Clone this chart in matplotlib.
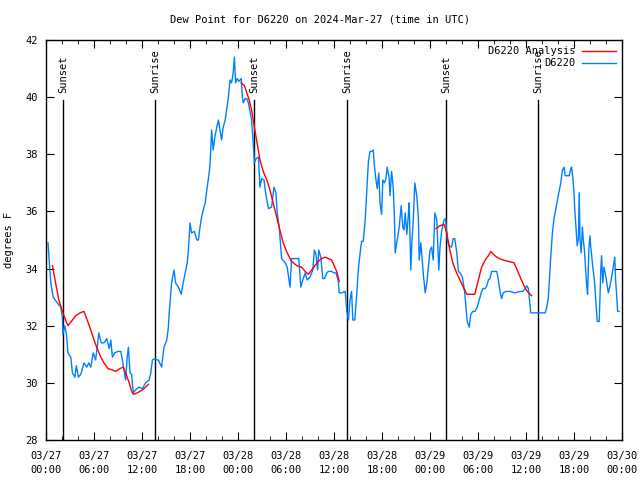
import numpy as np
import matplotlib.pyplot as plt

# hours since 03/27 00:00 UTC
obs_hours = [0.25, 0.35, 0.6, 0.9, 1.4, 1.85, 2.05, 2.1, 2.35, 2.55, 2.75, 3.1, 3.3, 3.6, 3.8,
             4.05, 4.35, 4.75, 5.1, 5.35, 5.6, 5.9, 6.2, 6.4, 6.6, 6.9, 7.25, 7.6, 7.9, 8.1,
             8.3, 8.6, 9.0, 9.35, 9.55, 9.95, 10.15, 10.3, 10.5, 10.7, 10.9, 11.2, 11.6, 12.05,
             12.45, 12.9, 13.1, 13.3, 13.6, 13.9, 14.05, 14.45, 14.75, 15.1, 15.3, 15.4, 15.5,
             15.7, 16.0, 16.2, 16.55, 16.9, 17.15, 17.4, 17.65, 17.8, 18.0, 18.2, 18.55, 18.85,
             19.05, 19.25, 19.45, 19.65, 19.9, 20.1, 20.3, 20.5, 20.7, 20.9, 21.1, 21.35, 21.55,
             21.75, 21.95, 22.15, 22.4, 22.6, 22.8, 23.0, 23.2, 23.4, 23.55, 23.7, 23.9, 24.1,
             24.4, 24.55, 24.65, 24.9, 25.1, 25.3, 25.5, 25.7, 25.9, 26.05, 26.25, 26.55, 26.75,
             26.95, 27.25, 27.45, 27.8, 28.2, 28.5, 28.75, 28.9, 29.15, 29.45, 29.9, 30.15, 30.5,
             30.7, 31.1, 31.6, 31.85, 32.1, 32.4, 32.65, 33.0, 33.35, 33.55, 33.75, 33.95, 34.1,
             34.35, 34.6, 34.8, 35.1, 35.3, 35.7, 36.0, 36.25, 36.4, 36.55, 36.65, 36.95, 37.4,
             37.6, 37.8, 38.0, 38.2, 38.35, 38.6, 38.85, 39.05, 39.35, 39.45, 39.65, 39.9, 40.1,
             40.3, 40.5, 40.7, 40.9, 41.05, 41.2, 41.4, 41.6, 41.75, 41.95, 42.1, 42.3, 42.5,
             42.65, 42.9, 43.0, 43.2, 43.4, 43.55, 43.65, 43.9, 44.15, 44.4, 44.6, 44.75, 44.9,
             45.1, 45.3, 45.4, 45.6, 45.75, 45.9, 46.1, 46.35, 46.55, 46.65, 46.85, 47.0, 47.15,
             47.4, 47.6, 47.8, 48.0, 48.2, 48.4, 48.6, 48.85, 48.95, 49.1, 49.25, 49.45, 49.75,
             49.95, 50.15, 50.4, 50.7, 50.9, 51.1, 51.35, 51.55, 51.75, 52.05, 52.3, 52.5, 52.65,
             52.9, 53.1, 53.35, 53.6, 53.9, 54.15, 54.4, 54.6, 54.9, 55.1, 55.3, 55.5, 55.7, 56.0,
             56.35, 56.55, 56.75, 56.95, 57.15, 57.5, 58.0, 58.6, 59.25, 59.6, 59.9, 60.1, 60.3,
             60.4, 60.6, 60.9, 61.75, 62.4, 62.6, 62.8, 62.9, 63.1, 63.3, 63.5, 63.7, 63.9, 64.1,
             64.35, 64.55, 64.75, 64.9, 65.15, 65.4, 65.6, 65.7, 65.85, 66.0, 66.1, 66.25, 66.4,
             66.55, 66.65, 66.75, 66.9, 67.05, 67.15, 67.3, 67.45, 67.6, 67.7, 67.85, 68.0, 68.1,
             68.35, 68.55, 68.75, 68.9, 69.15, 69.35, 69.45, 69.6, 69.75, 69.9, 70.1, 70.3, 70.5,
             70.7, 70.9, 71.1, 71.2, 71.35, 71.45, 71.65]
obs_dewpt = [34.9, 34.5, 33.5, 33.0, 32.8, 32.65, 32.3, 31.7, 32.0, 31.7, 31.05, 30.9, 30.35, 30.2,
             30.6, 30.2, 30.3, 30.7, 30.55, 30.7, 30.55, 31.05, 30.8, 31.25, 31.75, 31.4, 31.4,
             31.55, 31.2, 31.5, 30.9, 31.05, 31.1, 31.1, 30.8, 30.1, 30.9, 31.25, 30.35, 30.3,
             29.65, 29.75, 29.85, 29.8, 30.0, 30.1, 30.35, 30.8, 30.85, 30.8, 30.8, 30.55, 31.25,
             31.5, 31.95, 32.45, 32.8, 33.5, 33.95, 33.5, 33.35, 33.1, 33.5, 33.85, 34.2, 34.65,
             35.6, 35.25, 35.3, 35.0, 35.0, 35.45, 35.8, 36.05, 36.3, 36.75, 37.15, 37.6, 38.85,
             38.15, 38.6, 38.95, 39.2, 38.85, 38.5, 38.95, 39.2, 39.6, 40.0, 40.6, 40.5, 40.85,
             41.4, 40.5, 40.65, 40.55, 40.65, 40.0, 39.8, 39.95, 39.95, 39.8, 39.5, 39.2, 38.4,
             37.7, 37.85, 37.9, 36.85, 37.15, 37.1, 36.65, 36.1, 36.15, 36.85, 36.65, 35.95,
             35.45, 34.35, 34.2, 34.05, 33.35, 34.35, 34.35, 34.35, 33.35, 33.6, 33.85, 33.6,
             33.7, 33.95, 34.65, 34.5, 33.95, 34.65, 34.4, 33.65, 33.65, 33.85, 33.9, 33.9,
             33.85, 33.85, 33.7, 33.55, 33.15, 33.15, 33.2, 32.5, 32.2, 32.9, 33.2, 32.2, 32.2,
             33.15, 34.0, 34.75, 34.95, 34.95, 35.7, 36.7, 37.75, 38.1, 38.1, 38.15, 37.6, 37.2,
             36.8, 37.35, 36.3, 35.9, 37.1, 37.0, 37.15, 37.55, 37.15, 36.55, 37.4, 36.85, 35.8,
             34.55, 35.0, 35.45, 36.2, 35.45, 35.35, 35.95, 35.2, 35.9, 36.3, 33.95, 35.0, 35.65,
             37.0, 36.55, 35.75, 34.3, 34.9, 34.4, 33.85, 33.15, 33.5, 34.05, 34.65, 34.75, 34.3,
             35.95, 35.7, 35.0, 33.95, 34.75, 35.3, 35.7, 35.75, 35.0, 34.8, 34.75, 35.05, 35.05,
             34.55, 33.9, 33.85, 33.7, 33.25, 32.65, 32.15, 31.95, 32.4, 32.5, 32.5, 32.65, 32.9,
             33.15, 33.3, 33.3, 33.4, 33.6, 33.65, 33.9, 33.9, 33.9, 33.6, 33.2, 32.95, 33.15,
             33.2, 33.2, 33.15, 33.2, 33.2, 33.3, 33.4, 33.3, 33.0, 32.45, 32.45, 32.45, 32.45,
             32.65, 33.0, 33.5, 34.45, 35.25, 35.75, 36.05, 36.35, 36.65, 37.0, 37.45, 37.55,
             37.25, 37.25, 37.25, 37.5, 37.55, 37.2, 36.65, 36.05, 35.4, 34.8, 35.05, 36.65,
             35.05, 34.55, 35.45, 35.05, 34.65, 34.0, 33.35, 33.1, 34.65, 35.15, 34.75, 34.05,
             33.6, 32.8, 32.15, 32.15, 33.95, 34.45, 33.5, 34.05, 33.85, 33.5, 33.15, 33.4, 33.7,
             34.05, 34.4, 33.6, 33.0, 32.5, 32.5]

# analysis, three nights
ana1_hours = [0.8, 1.2, 1.6, 2.05, 2.45, 2.75, 3.3, 3.7, 4.25, 4.75, 5.15, 5.6, 6.0, 6.4, 6.85,
              7.25, 7.75, 8.3, 8.7, 9.25, 9.65, 9.95, 10.4, 10.65, 10.9, 11.4, 12.05, 12.45, 12.8]
ana1_dewpt = [34.1, 33.5, 32.9, 32.5, 32.2, 32.0, 32.2, 32.35, 32.45, 32.5, 32.2, 31.85, 31.5,
              31.2, 30.9, 30.7, 30.5, 30.45, 30.4, 30.5, 30.55, 30.35, 30.0, 29.75, 29.6, 29.65,
              29.75, 29.85, 29.95]
ana2_hours = [24.4, 24.8, 25.1, 25.4, 25.7, 26.05, 26.35, 26.75, 27.15, 27.6, 28.0, 28.35, 28.75,
              29.15, 29.65, 30.15, 30.7, 31.35, 31.95, 32.4, 32.8, 33.2, 33.6, 34.05, 34.45,
              34.9, 35.3, 35.7, 36.1, 36.4, 36.65]
ana2_dewpt = [40.5, 40.4, 40.15, 39.9, 39.55, 38.95, 38.45, 37.8, 37.4, 37.1, 36.75, 36.35, 35.9,
              35.45, 34.9, 34.55, 34.25, 34.1, 34.05, 33.9, 33.8, 33.95, 34.1, 34.25, 34.35,
              34.4, 34.35, 34.3, 34.05, 33.85, 33.55]
ana3_hours = [48.75, 49.25, 49.75, 50.1, 50.4, 50.85, 51.25, 51.75, 52.15, 52.6, 53.6, 54.05,
              54.45, 54.9, 55.3, 55.6, 56.1, 56.65, 57.15, 57.8, 58.5, 58.9, 59.35, 59.75, 60.15,
              60.7]
ana3_dewpt = [35.4, 35.5, 35.55, 35.25, 34.75, 34.2, 33.9, 33.6, 33.35, 33.1, 33.1, 33.6, 34.05,
              34.3, 34.45, 34.6, 34.45, 34.35, 34.3, 34.25, 34.2, 33.95, 33.65, 33.4, 33.2, 33.05]

sun_hours = [2.125, 13.625, 26.0, 37.625, 50.0, 61.5]
sun_names = ['Sunset', 'Sunrise', 'Sunset', 'Sunrise', 'Sunset', 'Sunrise']

tick_hours = list(range(0, 73, 6))
tick_labels = ['03/27\n00:00', '03/27\n06:00', '03/27\n12:00', '03/27\n18:00',
               '03/28\n00:00', '03/28\n06:00', '03/28\n12:00', '03/28\n18:00',
               '03/29\n00:00', '03/29\n06:00', '03/29\n12:00', '03/29\n18:00',
               '03/30\n00:00']

plt.rcParams['font.family'] = 'DejaVu Sans Mono'
plt.rcParams['font.size'] = 7.5

fig = plt.figure(figsize=(6.4, 4.8), dpi=100)
ax = fig.add_axes([46 / 640, 40 / 480, 576 / 640, 400 / 480])

ana_h = ana1_hours + [np.nan] + ana2_hours + [np.nan] + ana3_hours
ana_v = ana1_dewpt + [np.nan] + ana2_dewpt + [np.nan] + ana3_dewpt
ax.plot(ana_h, ana_v, color='#ff0000', lw=1, label='D6220 Analysis', zorder=3)
ax.plot(obs_hours, obs_dewpt, color='#0080ff', lw=1, label='D6220', zorder=2)

for h, name in zip(sun_hours, sun_names):
    ax.plot([h, h], [28, 39.9], color='black', lw=1, zorder=1)
    ax.text(h, 40.15, name, rotation=90, ha='center', va='bottom', fontsize=7.5)

ax.set_xlim(0, 72)
ax.set_ylim(28, 42)
ax.set_xticks(tick_hours)
ax.set_xticklabels(tick_labels, linespacing=1.45)
ax.set_xticks(np.arange(0, 73, 2), minor=True)
ax.set_yticks(np.arange(28, 43, 2))
ax.tick_params(which='both', direction='in', top=True, right=True, pad=6)
ax.tick_params(axis='x', which='major', pad=8)
ax.tick_params(which='major', length=6)
ax.tick_params(which='minor', length=3)
for s in ax.spines.values():
    s.set_linewidth(1)

ax.set_ylabel('degrees F', labelpad=8)
fig.text(0.5, 1 - 20 / 480, 'Dew Point for D6220 on 2024-Mar-27 (time in UTC)',
         ha='center', va='center', fontsize=7.5)
ax.legend(loc='upper right', frameon=False, markerfirst=False, handlelength=3.2,
          borderaxespad=0.2, labelspacing=0.2, handletextpad=0.7, fontsize=7.5)

fig.savefig('out.png', dpi=100)
